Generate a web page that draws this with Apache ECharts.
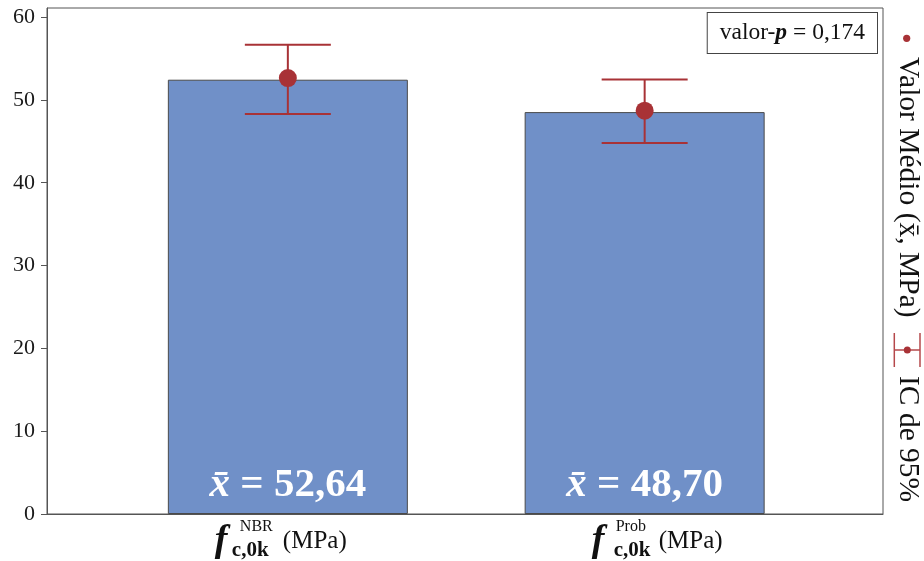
<!DOCTYPE html>
<html>
<head>
<meta charset="utf-8">
<script src="https://cdn.jsdelivr.net/npm/echarts@6/dist/echarts.min.js"></script>
<style>
html,body{margin:0;padding:0;background:#fff;}
#chart{width:924px;height:561px;}
</style>
</head>
<body>
<div id="chart"></div>
<script>
// ---- data ----
const supLabels = ['NBR', 'Prob'];          // superscripts of the category labels
const xPositions = [1, 2];                  // category positions on the x scale
const barValues = [52.44, 48.53];           // bar heights (MPa)
const meanValues = [52.64, 48.70];          // mean points (MPa)
const ciLower = [48.29, 44.79];             // 95% CI lower
const ciUpper = [56.66, 52.47];             // 95% CI upper
const meanLabels = ['52,64', '48,70'];      // text inside the bars
const yTicks = [0, 10, 20, 30, 40, 50, 60];
const pValueText = '0,174';

const SERIF = '"Liberation Serif", "DejaVu Serif", serif';
const RED = '#A83236';

const chart = echarts.init(document.getElementById('chart'), null, {renderer: 'canvas'});

const fStyle = {fontFamily: SERIF, fontSize: 38, fontWeight: 'bold', fontStyle: 'italic', color: '#111', lineHeight: 40, width: 17, align: 'left'};
const mainLabelRich = {
  f: fStyle,
  sub: {fontFamily: SERIF, fontSize: 21, fontWeight: 'bold', color: '#111', verticalAlign: 'bottom', lineHeight: 24, width: 51, align: 'left'},
  u: {fontFamily: SERIF, fontSize: 25, color: '#111', lineHeight: 40, width: 66, align: 'left'},
  spR: {width: 12},
  spL: {width: 24}
};
const supLabelRich = {
  s0: {fontFamily: SERIF, fontSize: 16, color: '#111', width: 96, align: 'left', lineHeight: 16},
  s1: {fontFamily: SERIF, fontSize: 16, color: '#111', width: 58, align: 'left', lineHeight: 16}
};

const option = {
  animation: false,
  backgroundColor: '#fff',
  grid: {left: 47, right: 41, top: 8, bottom: 47, show: true, borderColor: '#555', borderWidth: 1, containLabel: false},
  xAxis: [
    {
      type: 'value', min: 0.325, max: 2.668, position: 'bottom',
      axisLine: {show: true, lineStyle: {color: '#555', width: 1}},
      axisTick: {show: false},
      splitLine: {show: false},
      axisLabel: {
        customValues: xPositions,
        margin: 7,
        formatter: function (v) {
          const i = xPositions.indexOf(v);
          if (i === 0) return '{f|f}{sub|c,0k}{u|(MPa)}{spR|}';
          if (i === 1) return '{spL|}{f|f}{sub|c,0k}{u|(MPa)}';
          return '';
        },
        rich: mainLabelRich
      }
    },
    {
      type: 'value', min: 0.325, max: 2.668, position: 'bottom',
      axisLine: {show: false}, axisTick: {show: false}, splitLine: {show: false},
      axisLabel: {
        customValues: xPositions,
        margin: 5,
        formatter: function (v) {
          const i = xPositions.indexOf(v);
          if (i < 0) return '';
          return '{s' + i + '|' + supLabels[i] + '}';
        },
        rich: supLabelRich
      }
    }
  ],
  yAxis: {
    type: 'value', min: 0, max: 61.1, interval: 10,
    axisLine: {show: true, lineStyle: {color: '#555', width: 1}},
    axisTick: {show: true, length: 6, lineStyle: {color: '#555'}, customValues: yTicks},
    splitLine: {show: false},
    axisLabel: {customValues: yTicks, margin: 12, fontFamily: SERIF, fontSize: 22, color: '#1a1a1a'}
  },
  series: [
    {
      type: 'bar',
      xAxisIndex: 0,
      barWidth: 240,
      data: xPositions.map((x, i) => [x, barValues[i]]),
      itemStyle: {color: '#7090C8', borderColor: '#4a4a4a', borderWidth: 1},
      label: {
        show: true,
        position: 'insideBottom',
        distance: 8,
        formatter: function (p) {
          return '{x|x\u0304}{t| = ' + meanLabels[p.dataIndex] + '}';
        },
        rich: {
          x: {fontFamily: SERIF, fontSize: 41, fontWeight: 'bold', fontStyle: 'italic', color: '#fff'},
          t: {fontFamily: SERIF, fontSize: 41, fontWeight: 'bold', color: '#fff'}
        }
      },
      z: 1
    },
    {
      type: 'custom',
      xAxisIndex: 0,
      data: xPositions.map((x, i) => [x, ciLower[i], ciUpper[i]]),
      renderItem: function (params, api) {
        const lo = api.coord([api.value(0), api.value(1)]);
        const hi = api.coord([api.value(0), api.value(2)]);
        const half = 43;
        const style = {stroke: RED, lineWidth: 2};
        return {
          type: 'group',
          children: [
            {type: 'line', shape: {x1: lo[0], y1: lo[1], x2: hi[0], y2: hi[1]}, style: style},
            {type: 'line', shape: {x1: hi[0] - half, y1: hi[1], x2: hi[0] + half, y2: hi[1]}, style: style},
            {type: 'line', shape: {x1: lo[0] - half, y1: lo[1], x2: lo[0] + half, y2: lo[1]}, style: style}
          ]
        };
      },
      z: 2
    },
    {
      type: 'scatter',
      xAxisIndex: 0,
      data: xPositions.map((x, i) => [x, meanValues[i]]),
      symbol: 'circle',
      symbolSize: 18,
      itemStyle: {color: RED, opacity: 1},
      z: 3
    }
  ],
  graphic: [
    {
      type: 'text',
      right: 46, top: 12,
      style: {
        text: '{a|valor-}{p|p}{a| = ' + pValueText + '}',
        rich: {
          a: {fontFamily: SERIF, fontSize: 23.5, fill: '#111', lineHeight: 22},
          p: {fontFamily: SERIF, fontSize: 23.5, fontWeight: 'bold', fontStyle: 'italic', fill: '#111', lineHeight: 22}
        },
        backgroundColor: '#fff',
        borderColor: '#444',
        borderWidth: 1,
        padding: [9, 12, 9, 12]
      },
      z: 10
    },
    {type: 'circle', shape: {cx: 906.7, cy: 38.3, r: 3.6}, style: {fill: RED}},
    {
      type: 'text', x: 908, y: 57, rotation: -Math.PI / 2,
      style: {text: 'Valor Médio (x\u0304, MPa)', font: '29.5px ' + SERIF, fill: '#111', align: 'left', verticalAlign: 'middle'}
    },
    {
      type: 'group',
      children: [
        {type: 'line', shape: {x1: 894.3, y1: 350, x2: 920, y2: 350}, style: {stroke: '#B5484B', lineWidth: 1.5}},
        {type: 'line', shape: {x1: 894.3, y1: 333, x2: 894.3, y2: 367}, style: {stroke: '#B5484B', lineWidth: 1.5}},
        {type: 'line', shape: {x1: 920, y1: 333, x2: 920, y2: 367}, style: {stroke: '#B5484B', lineWidth: 1.5}},
        {type: 'circle', shape: {cx: 907.3, cy: 350, r: 3.5}, style: {fill: RED}}
      ]
    },
    {
      type: 'text', x: 908, y: 376, rotation: -Math.PI / 2,
      style: {text: 'IC de 95%', font: '29.5px ' + SERIF, fill: '#111', align: 'left', verticalAlign: 'middle'}
    }
  ]
};

chart.setOption(option);
</script>
</body>
</html>
